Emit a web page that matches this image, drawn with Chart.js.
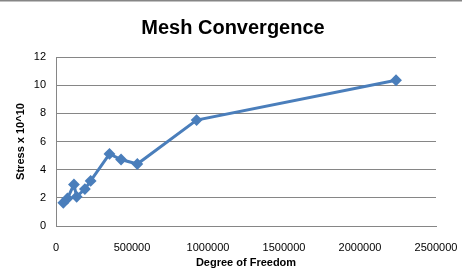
<!DOCTYPE html>
<html>
<head>
<meta charset="utf-8">
<script src="https://cdn.jsdelivr.net/npm/chart.js@4/dist/chart.umd.min.js"></script>
<style>
html,body{margin:0;padding:0;background:#fff;}
#wrap{width:462px;height:272px;position:relative;}
</style>
</head>
<body>
<div id="wrap"><canvas id="c" width="462" height="272"></canvas></div>
<script>
const dof = [48000, 75000, 118000, 136000, 190000, 228000, 352000, 428000, 535000, 925000, 2237000];
const stress = [1.65, 1.95, 2.95, 2.08, 2.62, 3.2, 5.12, 4.72, 4.4, 7.52, 10.35];
const chartTitle = 'Mesh Convergence';
const xTitle = 'Degree of Freedom';
const yTitle = 'Stress x 10^10';

const topLine = {
  id: 'topLine',
  afterDraw(chart) {
    const ctx = chart.ctx;
    ctx.save();
    ctx.fillStyle = '#868686';
    ctx.fillRect(0, 0, chart.width, 1.5);
    ctx.restore();
  }
};

new Chart(document.getElementById('c'), {
  type: 'scatter',
  data: {
    datasets: [{
      data: dof.map((x, i) => ({x: x, y: stress[i]})),
      showLine: true,
      borderColor: '#4A7EBB',
      backgroundColor: '#4A7EBB',
      borderWidth: 3,
      pointStyle: 'rectRot',
      pointRadius: 3.8,
      pointHoverRadius: 3.8,
      tension: 0
    }]
  },
  options: {
    responsive: false,
    animation: false,
    layout: { padding: { left: 30, right: 26, top: 0, bottom: 0 } },
    plugins: {
      legend: { display: false },
      tooltip: { enabled: false },
      title: {
        display: true,
        text: chartTitle,
        color: '#000',
        font: { family: 'Liberation Sans', size: 20, weight: 'bold' },
        padding: { top: 16, bottom: 17 }
      }
    },
    scales: {
      x: {
        type: 'linear',
        min: 0, max: 2500000,
        ticks: { stepSize: 500000, color: '#000', font: { family: 'Liberation Sans', size: 11 }, padding: 15, maxRotation: 0,
          callback: v => String(v) },
        grid: { display: false, drawTicks: false },
        border: { display: true, color: '#868686', width: 1 },
        title: { display: true, text: xTitle, color: '#000', font: { family: 'Liberation Sans', size: 11, weight: 'bold' }, padding: { top: 0, bottom: 2 } },
        afterFit(scale) { scale.height = 46; scale.paddingLeft = 0; scale.paddingRight = 0; }
      },
      y: {
        min: 0, max: 12,
        ticks: { stepSize: 2, color: '#000', font: { family: 'Liberation Sans', size: 11 }, padding: 10 },
        grid: { color: '#868686', lineWidth: 1, drawTicks: false },
        border: { display: true, color: '#868686', width: 1 },
        title: { display: true, text: yTitle, color: '#000', font: { family: 'Liberation Sans', size: 11, weight: 'bold' }, padding: { top: -16, bottom: 8 } },
        afterFit(scale) { scale.width = 26; scale.paddingTop = 0; scale.paddingBottom = 0; }
      }
    }
  },
  plugins: [topLine]
});
</script>
</body>
</html>
